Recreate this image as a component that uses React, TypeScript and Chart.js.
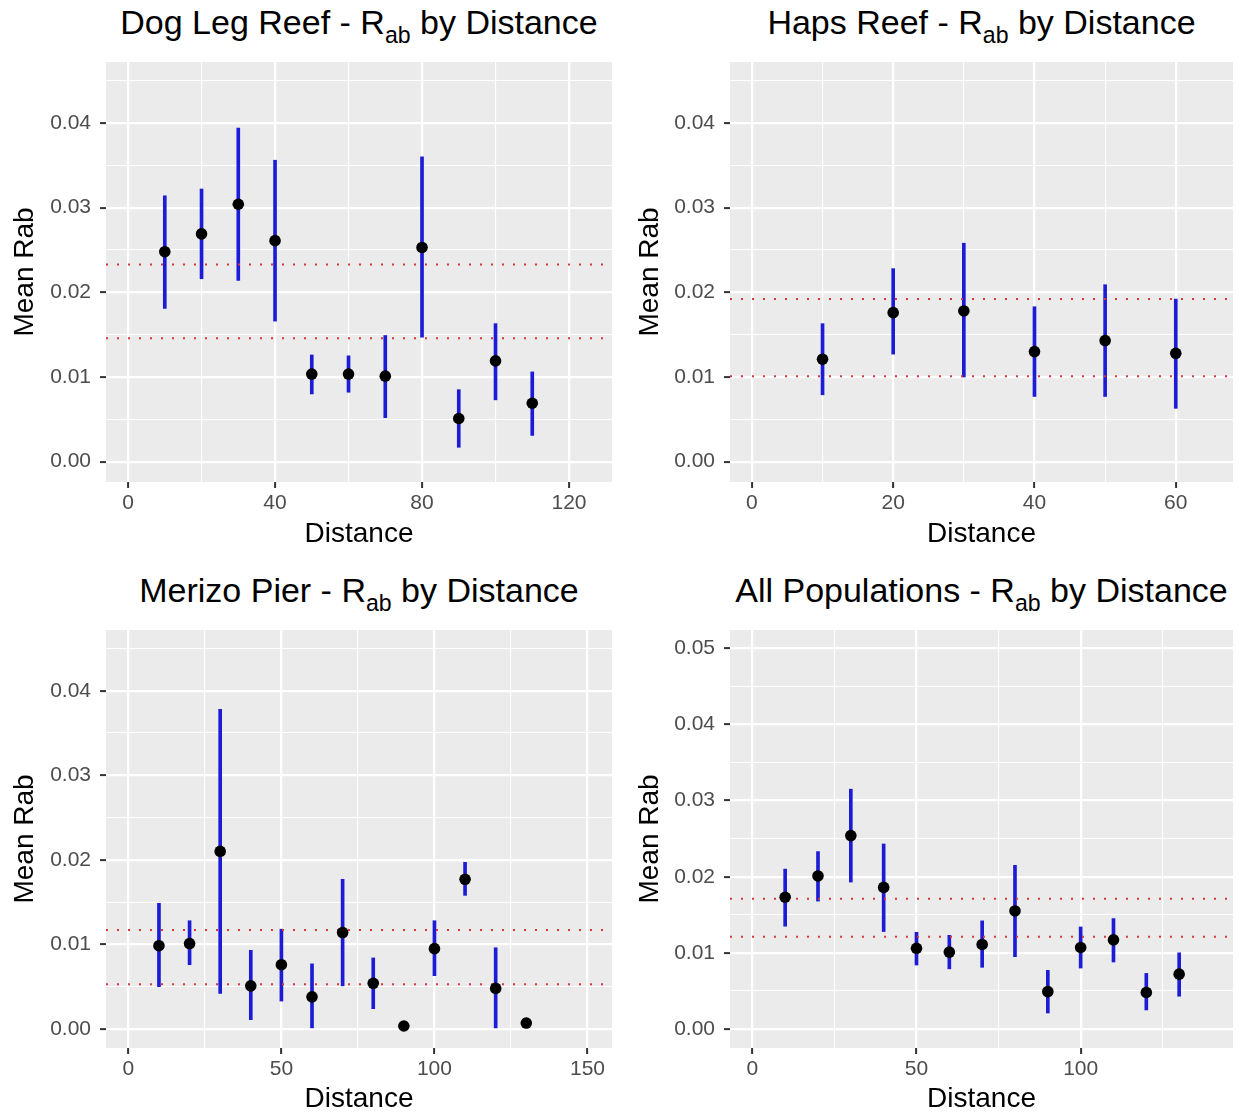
import React, { useEffect, useRef } from 'react';
import { Chart, registerables } from 'chart.js';

Chart.register(...registerables);

// ---------- Data ----------
// Dog Leg Reef
const dogLegDistance = [10, 20, 30, 40, 50, 60, 70, 80, 90, 100, 110];
const dogLegMean = [0.0248, 0.0269, 0.0304, 0.0261, 0.01035, 0.01035, 0.0101, 0.0253, 0.0051, 0.0119, 0.0069];
const dogLegLower = [0.0181, 0.0216, 0.0214, 0.0166, 0.008, 0.0082, 0.0052, 0.0147, 0.0017, 0.0073, 0.0031];
const dogLegUpper = [0.0314, 0.0322, 0.0394, 0.0356, 0.0126, 0.0125, 0.0149, 0.036, 0.0085, 0.0163, 0.0106];
const dogLegRefLines = [0.0233, 0.01457];

// Haps Reef
const hapsDistance = [10, 20, 30, 40, 50, 60];
const hapsMean = [0.0121, 0.0176, 0.0178, 0.013, 0.0143, 0.0128];
const hapsLower = [0.0079, 0.0127, 0.01, 0.0077, 0.0077, 0.0063];
const hapsUpper = [0.0163, 0.0228, 0.0258, 0.0183, 0.0209, 0.0192];
const hapsRefLines = [0.0192, 0.0101];

// Merizo Pier
const merizoDistance = [10, 20, 30, 40, 50, 60, 70, 80, 90, 100, 110, 120, 130];
const merizoMean = [0.00985, 0.0101, 0.021, 0.0051, 0.0076, 0.0038, 0.0114, 0.0054, 0.00035, 0.0095, 0.0177, 0.0048, 0.0007];
const merizoLower = [0.005, 0.0076, 0.0042, 0.0011, 0.0033, 0.0, 0.0051, 0.0024, 0.00035, 0.0063, 0.0158, 0.0, 0.0007];
const merizoUpper = [0.01486, 0.0128, 0.0378, 0.0093, 0.0118, 0.0077, 0.0177, 0.0084, 0.00035, 0.0128, 0.0197, 0.0096, 0.0007];
const merizoRefLines = [0.0117, 0.0053];

// All Populations
const allDistance = [10, 20, 30, 40, 50, 60, 70, 80, 90, 100, 110, 120, 130];
const allMean = [0.0173, 0.0201, 0.0254, 0.0186, 0.0106, 0.0101, 0.0111, 0.0155, 0.0049, 0.0107, 0.0117, 0.0048, 0.0072];
const allLower = [0.0135, 0.0168, 0.0193, 0.0128, 0.0084, 0.0079, 0.0081, 0.0095, 0.0021, 0.008, 0.0088, 0.0025, 0.0043];
const allUpper = [0.021, 0.0233, 0.0315, 0.0243, 0.0127, 0.0123, 0.0142, 0.0215, 0.0077, 0.0134, 0.0145, 0.0073, 0.01];
const allRefLines = [0.0171, 0.0121];

// Tick labels / breaks
const dogLegXMajor = [0, 40, 80, 120];
const dogLegXMinor = [20, 60, 100];
const hapsXMajor = [0, 20, 40, 60];
const hapsXMinor = [10, 30, 50];
const merizoXMajor = [0, 50, 100, 150];
const merizoXMinor = [25, 75, 125];
const allXMajor = [0, 50, 100];
const allXMinor = [25, 75, 125];
const yMajor4 = [0, 0.01, 0.02, 0.03, 0.04];
const yMinor4 = [0.005, 0.015, 0.025, 0.035, 0.045];
const yMajor5 = [0, 0.01, 0.02, 0.03, 0.04, 0.05];
const yMinor5 = [0.005, 0.015, 0.025, 0.035, 0.045];

const FONT = '"Liberation Sans", Arial, Helvetica, sans-serif';

type Box = { l: number; t: number; r: number; b: number };
type Canv = { left: number; top: number; w: number; h: number };

type PanelSpec = {
  name: string;
  distance: number[];
  mean: number[];
  lower: number[];
  upper: number[];
  refs: number[];
  xMajor: number[];
  xMinor: number[];
  yMajor: number[];
  yMinor: number[];
  xMin: number;
  xMax: number;
  yMin: number;
  yMax: number;
  canvas: Canv;
  area: Box;
  yTitleX: number; // page x of y-axis title centre
};

const panels: PanelSpec[] = [
  {
    name: 'Dog Leg Reef',
    distance: dogLegDistance, mean: dogLegMean, lower: dogLegLower, upper: dogLegUpper, refs: dogLegRefLines,
    xMajor: dogLegXMajor, xMinor: dogLegXMinor, yMajor: yMajor4, yMinor: yMinor4,
    xMin: -6.0, xMax: 131.7, yMin: -0.0024, yMax: 0.0472,
    canvas: { left: 0, top: 40, w: 620, h: 520 },
    area: { l: 106, t: 62, r: 612, b: 482 },
    yTitleX: 25,
  },
  {
    name: 'Haps Reef',
    distance: hapsDistance, mean: hapsMean, lower: hapsLower, upper: hapsUpper, refs: hapsRefLines,
    xMajor: hapsXMajor, xMinor: hapsXMinor, yMajor: yMajor4, yMinor: yMinor4,
    xMin: -3.1, xMax: 68.1, yMin: -0.0024, yMax: 0.0472,
    canvas: { left: 620, top: 40, w: 619, h: 520 },
    area: { l: 730, t: 62, r: 1233, b: 482 },
    yTitleX: 650,
  },
  {
    name: 'Merizo Pier',
    distance: merizoDistance, mean: merizoMean, lower: merizoLower, upper: merizoUpper, refs: merizoRefLines,
    xMajor: merizoXMajor, xMinor: merizoXMinor, yMajor: yMajor4, yMinor: yMinor4,
    xMin: -7.3, xMax: 158, yMin: -0.00225, yMax: 0.04718,
    canvas: { left: 0, top: 600, w: 620, h: 516 },
    area: { l: 106, t: 630, r: 612, b: 1048 },
    yTitleX: 25,
  },
  {
    name: 'All Populations',
    distance: allDistance, mean: allMean, lower: allLower, upper: allUpper, refs: allRefLines,
    xMajor: allXMajor, xMinor: allXMinor, yMajor: yMajor5, yMinor: yMinor5,
    xMin: -6.8, xMax: 146.4, yMin: -0.0025, yMax: 0.05241,
    canvas: { left: 620, top: 600, w: 619, h: 516 },
    area: { l: 730, t: 630, r: 1233, b: 1048 },
    yTitleX: 650,
  },
];

const panelBg = {
  id: 'panelBg',
  beforeDraw(chart: any) {
    const { ctx, chartArea } = chart;
    if (!chartArea) return;
    ctx.save();
    ctx.fillStyle = '#EBEBEB';
    ctx.fillRect(chartArea.left, chartArea.top, chartArea.right - chartArea.left, chartArea.bottom - chartArea.top);
    ctx.restore();
  },
};

const near = (arr: number[], v: number) => arr.some((a) => Math.abs(a - v) < 1e-9);

const TICK_FONT = 21;
const AXIS_TITLE_FONT = 28;
const MAIN_TITLE_FONT = 34;

function Panel({ spec }: { spec: PanelSpec }) {
  const ref = useRef<HTMLCanvasElement | null>(null);

  useEffect(() => {
    const canvas = ref.current;
    if (!canvas) return;
    const { canvas: cv, area } = spec;
    const xAxisHeight = cv.top + cv.h - area.b;
    const padTop = area.t - cv.top;
    const padRight = cv.left + cv.w - area.r;
    const titleLH = AXIS_TITLE_FONT * 1.2;
    const xTitleOffset = cv.top + cv.h - (area.b + 52);
    const xTitlePadBottom = Math.max(0, xTitleOffset - titleLH / 2);
    const yTitlePadTop = Math.max(0, spec.yTitleX - cv.left - titleLH / 2);

    const xTicks = [...spec.xMajor, ...spec.xMinor].sort((a, b) => a - b);
    const yTicks = [...spec.yMajor, ...spec.yMinor].sort((a, b) => a - b);

    const chart = new Chart(canvas, {
      type: 'scatter',
      data: {
        datasets: [
          {
            type: 'bar',
            data: spec.distance.map((d, i) => ({ x: d, y: [spec.lower[i], spec.upper[i]] })),
            backgroundColor: '#1c1cd6',
            borderWidth: 0,
            barThickness: 3,
            grouped: false,
            order: 3,
          } as any,
          ...spec.refs.map((r) => ({
            type: 'line',
            data: [
              { x: spec.xMin, y: r },
              { x: spec.xMax, y: r },
            ],
            borderColor: '#D8383A',
            borderWidth: 2,
            borderDash: [2, 9],
            pointRadius: 0,
            fill: false,
            order: 2,
          } as any)),
          {
            type: 'scatter',
            data: spec.distance.map((d, i) => ({ x: d, y: spec.mean[i] })),
            backgroundColor: '#000000',
            borderWidth: 0,
            pointRadius: 5.8,
            pointHoverRadius: 5.8,
            order: 0,
          } as any,
        ],
      },
      options: {
        animation: false,
        responsive: false,
        devicePixelRatio: 1,
        events: [],
        layout: { padding: { top: padTop, right: padRight, left: 0, bottom: 0 } },
        plugins: { legend: { display: false }, tooltip: { enabled: false }, title: { display: false } },
        scales: {
          x: {
            type: 'linear',
            min: spec.xMin,
            max: spec.xMax,
            bounds: 'data',
            offset: false,
            border: { display: false },
            afterBuildTicks: (axis: any) => {
              axis.ticks = xTicks.map((v) => ({ value: v }));
            },
            afterFit: (axis: any) => {
              axis.height = xAxisHeight;
            },
            grid: {
              offset: false,
              color: '#FFFFFF',
              lineWidth: (ctx: any) => (ctx.tick && near(spec.xMajor, ctx.tick.value) ? 2.2 : 1.1),
              drawTicks: true,
              tickLength: 6,
              tickWidth: 2,
              tickColor: (ctx: any) => (ctx.tick && near(spec.xMajor, ctx.tick.value) ? '#333333' : 'rgba(0,0,0,0)'),
            },
            ticks: {
              autoSkip: false,
              maxRotation: 0,
              minRotation: 0,
              padding: 2.5,
              color: '#4D4D4D',
              font: { family: FONT, size: TICK_FONT },
              callback: (v: any) => (near(spec.xMajor, Number(v)) ? String(Math.round(Number(v))) : ''),
            },
            title: {
              display: true,
              text: 'Distance',
              color: '#000000',
              font: { family: FONT, size: AXIS_TITLE_FONT },
              padding: { top: 0, bottom: xTitlePadBottom },
            },
          },
          y: {
            type: 'linear',
            min: spec.yMin,
            max: spec.yMax,
            bounds: 'data',
            border: { display: false },
            afterBuildTicks: (axis: any) => {
              axis.ticks = yTicks.map((v) => ({ value: v }));
            },
            afterFit: (axis: any) => {
              axis.width = area.l - cv.left;
            },
            grid: {
              color: '#FFFFFF',
              lineWidth: (ctx: any) => (ctx.tick && near(spec.yMajor, ctx.tick.value) ? 2.2 : 1.1),
              drawTicks: true,
              tickLength: 6,
              tickWidth: 2,
              tickColor: (ctx: any) => (ctx.tick && near(spec.yMajor, ctx.tick.value) ? '#333333' : 'rgba(0,0,0,0)'),
            },
            ticks: {
              autoSkip: false,
              padding: 9,
              color: '#4D4D4D',
              font: { family: FONT, size: TICK_FONT },
              callback: (v: any) => (near(spec.yMajor, Number(v)) ? Number(v).toFixed(2) : ''),
            },
            title: {
              display: true,
              text: 'Mean Rab',
              color: '#000000',
              font: { family: FONT, size: AXIS_TITLE_FONT },
              padding: { top: yTitlePadTop, bottom: 0 },
            },
          },
        },
      } as any,
      plugins: [panelBg],
    });
    return () => chart.destroy();
  }, [spec]);

  const { canvas: cv, area } = spec;
  const titleLH = 40;
  const baseline = area.t - 28;
  const baselineInBox = (titleLH - MAIN_TITLE_FONT * 1.117) / 2 + MAIN_TITLE_FONT * 0.905;

  return (
    <>
      <div
        style={{
          position: 'absolute',
          left: area.l - 20,
          width: area.r - area.l + 40,
          top: baseline - baselineInBox,
          height: titleLH,
          lineHeight: `${titleLH}px`,
          fontSize: MAIN_TITLE_FONT,
          fontFamily: FONT,
          color: '#000',
          textAlign: 'center',
          whiteSpace: 'nowrap',
        }}
      >
        {spec.name} - R
        <span style={{ fontSize: '0.68em', verticalAlign: '-9px', lineHeight: 1 }}>ab</span> by Distance
      </div>
      <canvas
        ref={ref}
        width={cv.w}
        height={cv.h}
        style={{ position: 'absolute', left: cv.left, top: cv.top, width: cv.w, height: cv.h }}
      />
    </>
  );
}

export default function App() {
  return (
    <div
      style={{
        position: 'absolute',
        left: 0,
        top: 0,
        width: 1239,
        height: 1116,
        background: '#FFFFFF',
        overflow: 'hidden',
      }}
    >
      {panels.map((p) => (
        <Panel key={p.name} spec={p} />
      ))}
    </div>
  );
}
